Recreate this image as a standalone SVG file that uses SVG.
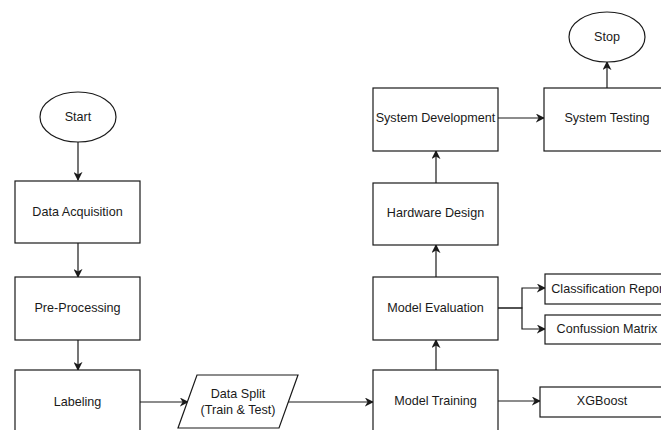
<svg xmlns="http://www.w3.org/2000/svg" width="661" height="430" viewBox="0 0 661 430">
<style>
.n{fill:#fff;stroke:#1a1a1a;stroke-width:1.2}
.t{font-family:"Liberation Sans",Arial,sans-serif;font-size:12.6px;fill:#1a1a1a;text-anchor:middle;dominant-baseline:central}
.c{fill:none;stroke:#1a1a1a;stroke-width:1.2;marker-end:url(#a)}
</style>
<defs>
<marker id="a" viewBox="0 0 10 10" refX="9" refY="5" markerWidth="9" markerHeight="9" markerUnits="userSpaceOnUse" orient="auto">
<path d="M0,0 L10,5 L0,10 L3,5 Z" fill="#1a1a1a"/>
</marker>
</defs>
<rect width="661" height="430" fill="#fff"/>
<g id="connectors">
<path class="c" d="M78,142 V180"/>
<path class="c" d="M78,243 V277"/>
<path class="c" d="M78,340 V370"/>
<path class="c" d="M140,402 H188"/>
<path class="c" d="M288,402 H373"/>
<path class="c" d="M436,370 V340"/>
<path class="c" d="M436,277 V245"/>
<path class="c" d="M436,183 V151"/>
<path class="c" d="M498,118 H544"/>
<path class="c" d="M607,88 V62"/>
<path class="c" d="M498,308 H522 V288 H545"/>
<path class="c" d="M498,308 H522 V329 H545"/>
<path class="c" d="M498,401 H540"/>
</g>
<g id="start"><ellipse class="n" cx="78" cy="117" rx="38" ry="25"/><text class="t" x="78" y="117">Start</text></g>
<g id="data-acquisition"><rect class="n" x="15" y="181" width="125" height="62"/><text class="t" x="77.5" y="212">Data Acquisition</text></g>
<g id="pre-processing"><rect class="n" x="15" y="277" width="125" height="63"/><text class="t" x="77.5" y="308">Pre-Processing</text></g>
<g id="labeling"><rect class="n" x="15" y="370" width="125" height="63"/><text class="t" x="77.5" y="402">Labeling</text></g>
<g id="data-split"><path class="n" d="M197,375 H298 L279,428 H178 Z"/><text class="t" x="238" y="394">Data Split</text><text class="t" x="238" y="410">(Train &amp; Test)</text></g>
<g id="model-training"><rect class="n" x="373" y="370" width="125" height="63"/><text class="t" x="435.5" y="401">Model Training</text></g>
<g id="model-evaluation"><rect class="n" x="373" y="277" width="125" height="63"/><text class="t" x="435.5" y="308">Model Evaluation</text></g>
<g id="hardware-design"><rect class="n" x="373" y="183" width="125" height="62"/><text class="t" x="435.5" y="213">Hardware Design</text></g>
<g id="system-development"><rect class="n" x="373" y="88" width="125" height="63"/><text class="t" x="435.5" y="118">System Development</text></g>
<g id="system-testing"><rect class="n" x="544" y="88" width="126" height="63"/><text class="t" x="607" y="118">System Testing</text></g>
<g id="stop"><ellipse class="n" cx="607" cy="37" rx="38" ry="25"/><text class="t" x="607" y="37">Stop</text></g>
<g id="classification-report"><rect class="n" x="545" y="274" width="124" height="30"/><text class="t" x="609" y="289">Classification Report</text></g>
<g id="confussion-matrix"><rect class="n" x="545" y="315" width="124" height="29"/><text class="t" x="607" y="329">Confussion Matrix</text></g>
<g id="xgboost"><rect class="n" x="540" y="387" width="124" height="30"/><text class="t" x="602" y="401">XGBoost</text></g>
</svg>
